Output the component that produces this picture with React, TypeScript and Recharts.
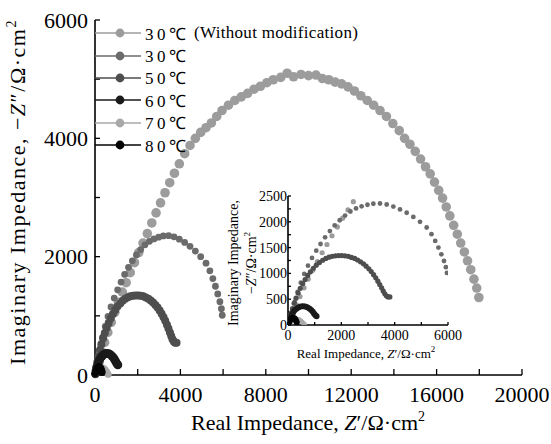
import React from 'react';
import { ScatterChart, Scatter, XAxis, YAxis, Legend } from 'recharts';

const FONT = "'Liberation Serif', 'Times New Roman', serif";

// legend entries, in drawing order
const SERIES_NAMES = ['30℃ (Without modification)', '30℃', '50℃', '60℃', '70℃', '80℃'];
const SERIES_COLORS = ['#9c9c9c', '#6b6b6b', '#4e4e4e', '#1a1a1a', '#a9a9a9', '#050505'];
const MAIN_RADIUS = [4.8, 3.4, 4, 4.4, 3.4, 3.6];
const INSET_RADIUS = [2.6, 2.4, 2.6, 3, 2.4, 3];

// Z' (real), -Z'' (imaginary), ohm*cm2
const S30_BARE: [number, number][] = [
  [100, 80], [200, 220], [320, 390], [450, 550], [600, 720], [760, 890], [930, 1060], [1100, 1230],
  [1280, 1400], [1460, 1560], [1650, 1730], [1850, 1900], [2050, 2070], [2250, 2230], [2450, 2390],
  [2660, 2570], [2860, 2740], [3070, 2910], [3280, 3080], [3500, 3250], [3720, 3410], [3950, 3570],
  [4200, 3740], [4450, 3880], [4700, 4000], [4950, 4100], [5200, 4180], [5450, 4260], [5700, 4370],
  [5950, 4470], [6250, 4560], [6550, 4640], [6850, 4700], [7150, 4760], [7450, 4830], [7750, 4880],
  [8050, 4940], [8350, 4990], [8700, 5030], [9000, 5100], [9300, 5040], [9650, 5080], [10000, 5060],
  [10350, 5070], [10650, 5010], [10950, 4990], [11250, 4950], [11550, 4920], [11850, 4870],
  [12150, 4800], [12450, 4720], [12750, 4640], [13050, 4560], [13350, 4470], [13650, 4370],
  [13950, 4250], [14250, 4130], [14500, 4000], [14750, 3900], [15000, 3780], [15250, 3650],
  [15480, 3520], [15700, 3400], [15900, 3260], [16100, 3120], [16280, 2990], [16450, 2840],
  [16620, 2690], [16800, 2530], [16970, 2380], [17130, 2230], [17300, 2080], [17450, 1930],
  [17600, 1780], [17750, 1620], [17880, 1470], [17980, 1310],
];

const S30: [number, number][] = [
  [60, 90], [150, 270], [250, 450], [360, 640], [480, 820], [610, 990], [750, 1150], [900, 1300],
  [1060, 1440], [1220, 1570], [1390, 1700], [1570, 1820], [1750, 1930], [1940, 2030], [2140, 2120],
  [2340, 2200], [2550, 2260], [2760, 2300], [2980, 2330], [3200, 2350], [3450, 2355], [3700, 2335],
  [3950, 2295], [4200, 2240], [4450, 2175], [4700, 2095], [4950, 2000], [5200, 1890], [5380, 1760],
  [5520, 1630], [5640, 1500], [5750, 1370], [5850, 1240], [5920, 1120], [5960, 1010],
];

const S50: [number, number][] = [
  [20, 30], [60, 120], [110, 220], [170, 320], [230, 420], [300, 520], [380, 620], [460, 710],
  [550, 800], [640, 880], [740, 960], [840, 1030], [950, 1100], [1060, 1160], [1180, 1210],
  [1300, 1255], [1420, 1290], [1540, 1315], [1660, 1330], [1780, 1340], [1900, 1345], [2020, 1345],
  [2140, 1340], [2260, 1330], [2380, 1310], [2500, 1290], [2610, 1260], [2720, 1225], [2830, 1185],
  [2930, 1140], [3030, 1090], [3120, 1035], [3210, 975], [3290, 915], [3370, 850], [3440, 785],
  [3510, 720], [3570, 660], [3630, 605], [3690, 565], [3750, 545], [3820, 545],
];

const S60: [number, number][] = [
  [20, 20], [50, 80], [90, 140], [140, 200], [200, 250], [260, 290], [330, 320], [400, 345],
  [480, 360], [560, 365], [640, 360], [720, 345], [800, 320], [870, 290], [930, 255], [980, 220],
  [1030, 190], [1070, 170],
];

const S70: [number, number][] = [
  [40, 15], [100, 50], [170, 85], [250, 110], [330, 120], [410, 110], [480, 85], [540, 55],
  [590, 25], [620, 10],
];

const S80: [number, number][] = [
  [20, 20], [50, 60], [90, 100], [140, 130], [190, 140], [240, 130], [280, 105], [310, 75], [330, 45],
];

const SERIES = [S30_BARE, S30, S50, S60, S70, S80];

const MAIN_X_TICKS = [0, 2000, 4000, 6000, 8000, 10000, 12000, 14000, 16000, 18000, 20000];
const MAIN_X_LABELS = [0, 4000, 8000, 12000, 16000, 20000];
const MAIN_TOP_TICKS = [0, 1000, 2000, 3000, 4000, 5000, 6000, 7000, 8000, 9000, 10000, 11000, 12000,
  13000, 14000, 15000, 16000, 17000, 18000, 19000, 20000];
const MAIN_Y_TICKS = [0, 1000, 2000, 3000, 4000, 5000, 6000];
const MAIN_Y_LABELS = [0, 2000, 4000, 6000];

const INSET_X_TICKS = [0, 1000, 2000, 3000, 4000, 5000, 6000];
const INSET_X_LABELS = [0, 2000, 4000, 6000];
const INSET_Y_TICKS = [0, 250, 500, 750, 1000, 1250, 1500, 1750, 2000, 2250, 2500];
const INSET_Y_LABELS = [0, 500, 1000, 1500, 2000, 2500];

const toPts = (arr: [number, number][]) => arr.map(([x, y]) => ({ x, y }));
const only = (labels: number[]) => (v: number) => (labels.includes(v) ? String(v) : '');
const dot = (r: number, fill: string) => (p: any) =>
  p.cx == null ? <g /> : <circle cx={p.cx} cy={p.cy} r={r} fill={fill} />;

const axisLine = { stroke: '#000', strokeWidth: 1.6 };
const tickLine = { stroke: '#000', strokeWidth: 1.3 };

function LegendBox() {
  return (
    <div style={{ fontSize: 17, color: '#000' }}>
      {SERIES_NAMES.map((name, i) => {
        const [temp, ...rest] = name.split(' ');
        return (
          <div key={name} style={{ display: 'flex', alignItems: 'center', height: 22.4 }}>
            <svg width={50} height={22} style={{ display: 'block' }}>
              <line x1={0} x2={46} y1={11} y2={11} stroke={SERIES_COLORS[i]} strokeWidth={1.6} />
              <circle cx={25} cy={11} r={4.4} fill={SERIES_COLORS[i]} />
            </svg>
            <span style={{ letterSpacing: 3.5, whiteSpace: 'pre' }}>{temp}</span>
            {rest.length > 0 && <span style={{ whiteSpace: 'pre', letterSpacing: 0.3 }}> {rest.join(' ')}</span>}
          </div>
        );
      })}
    </div>
  );
}

export default function App() {
  return (
    <div style={{ position: 'absolute', left: 0, top: 0, width: 551, height: 444, background: '#fff', fontFamily: FONT }}>
      <ScatterChart width={551} height={444} margin={{ top: 20, right: 29, bottom: 0, left: 0 }}>
        <XAxis xAxisId="b" dataKey="x" type="number" domain={[0, 20000]} ticks={MAIN_X_TICKS}
          interval={0} tickFormatter={only(MAIN_X_LABELS)} height={69} tickSize={-6} tickMargin={17}
          axisLine={axisLine} tickLine={tickLine} tick={{ fontSize: 22, fill: '#000' }} />
        <XAxis xAxisId="t" orientation="top" dataKey="x" type="number" domain={[0, 20000]}
          ticks={MAIN_TOP_TICKS} interval={0} tickFormatter={() => ''} height={0} tickSize={-4}
          axisLine={axisLine} tickLine={tickLine} />
        <YAxis yAxisId="l" dataKey="y" type="number" domain={[0, 6000]} ticks={MAIN_Y_TICKS}
          interval={0} tickFormatter={only(MAIN_Y_LABELS)} width={95} tickSize={-5} tickMargin={12}
          axisLine={axisLine} tickLine={tickLine} tick={{ fontSize: 22, fill: '#000' }} />
        <YAxis yAxisId="r" orientation="right" dataKey="y" type="number" domain={[0, 6000]}
          ticks={MAIN_Y_TICKS} interval={0} tickFormatter={() => ''} width={0} tickSize={-5}
          axisLine={axisLine} tickLine={tickLine} />
        {SERIES.map((s, i) => (
          <Scatter key={SERIES_NAMES[i]} name={SERIES_NAMES[i]} data={toPts(s)} xAxisId="b" yAxisId="l"
            isAnimationActive={false} shape={dot(MAIN_RADIUS[i], SERIES_COLORS[i])} />
        ))}
        <Legend layout="vertical" align="center" verticalAlign="middle" content={() => <LegendBox />}
          wrapperStyle={{ left: 95, top: 22, width: 300, height: 140 }} />
      </ScatterChart>

      <div style={{ position: 'absolute', left: 220, top: 190 }}>
        <ScatterChart width={255} height={172} margin={{ top: 6, right: 27, bottom: 0, left: 0 }}>
          <XAxis xAxisId="b" dataKey="x" type="number" domain={[0, 6000]} allowDataOverflow
            ticks={INSET_X_TICKS} interval={0} tickFormatter={only(INSET_X_LABELS)} height={37}
            tickSize={-3} tickMargin={8} axisLine={axisLine} tickLine={tickLine}
            tick={{ fontSize: 14, fill: '#000' }} />
          <XAxis xAxisId="t" orientation="top" dataKey="x" type="number" domain={[0, 6000]}
            ticks={INSET_X_TICKS} interval={0} tickFormatter={() => ''} height={0} tickSize={-3}
            axisLine={axisLine} tickLine={tickLine} />
          <YAxis yAxisId="l" dataKey="y" type="number" domain={[0, 2500]} allowDataOverflow
            ticks={INSET_Y_TICKS} interval={0} tickFormatter={only(INSET_Y_LABELS)} width={68}
            tickSize={-3} tickMargin={4} axisLine={axisLine} tickLine={tickLine}
            tick={{ fontSize: 14, fill: '#000' }} />
          <YAxis yAxisId="r" orientation="right" dataKey="y" type="number" domain={[0, 2500]}
            ticks={INSET_Y_TICKS} interval={0} tickFormatter={() => ''} width={0} tickSize={-3}
            axisLine={axisLine} tickLine={tickLine} />
          {SERIES.map((s, i) => (
            <Scatter key={SERIES_NAMES[i]} data={toPts(s.filter(([x, y]) => x <= 6000 && y <= 2500))}
              xAxisId="b" yAxisId="l" isAnimationActive={false}
              shape={dot(INSET_RADIUS[i], SERIES_COLORS[i])} />
          ))}
        </ScatterChart>
      </div>

      <svg width={551} height={444} style={{ position: 'absolute', left: 0, top: 0, pointerEvents: 'none' }}
        fill="#000">
        <text x={308} y={430} textAnchor="middle" fontSize={22}>
          Real Impedance, <tspan fontStyle="italic">Z</tspan>′/Ω·cm<tspan dy={-9} fontSize={14}>2</tspan>
        </text>
        <text transform="translate(25,192) rotate(-90)" textAnchor="middle" fontSize={22} letterSpacing={1.5}>
          Imaginary Impedance, −<tspan fontStyle="italic">Z</tspan>″/Ω·cm<tspan dy={-9} fontSize={14}>2</tspan>
        </text>
        <text x={366} y={358} textAnchor="middle" fontSize={13}>
          Real Impedance, <tspan fontStyle="italic">Z</tspan>′/Ω·cm<tspan dy={-6} fontSize={9}>2</tspan>
        </text>
        <text transform="translate(238,263) rotate(-90)" textAnchor="middle" fontSize={14}>
          Imaginary Impedance,
        </text>
        <text transform="translate(256,263) rotate(-90)" textAnchor="middle" fontSize={14}>
          −<tspan fontStyle="italic">Z</tspan>″/Ω·cm<tspan dy={-6} fontSize={9}>2</tspan>
        </text>
      </svg>
    </div>
  );
}
